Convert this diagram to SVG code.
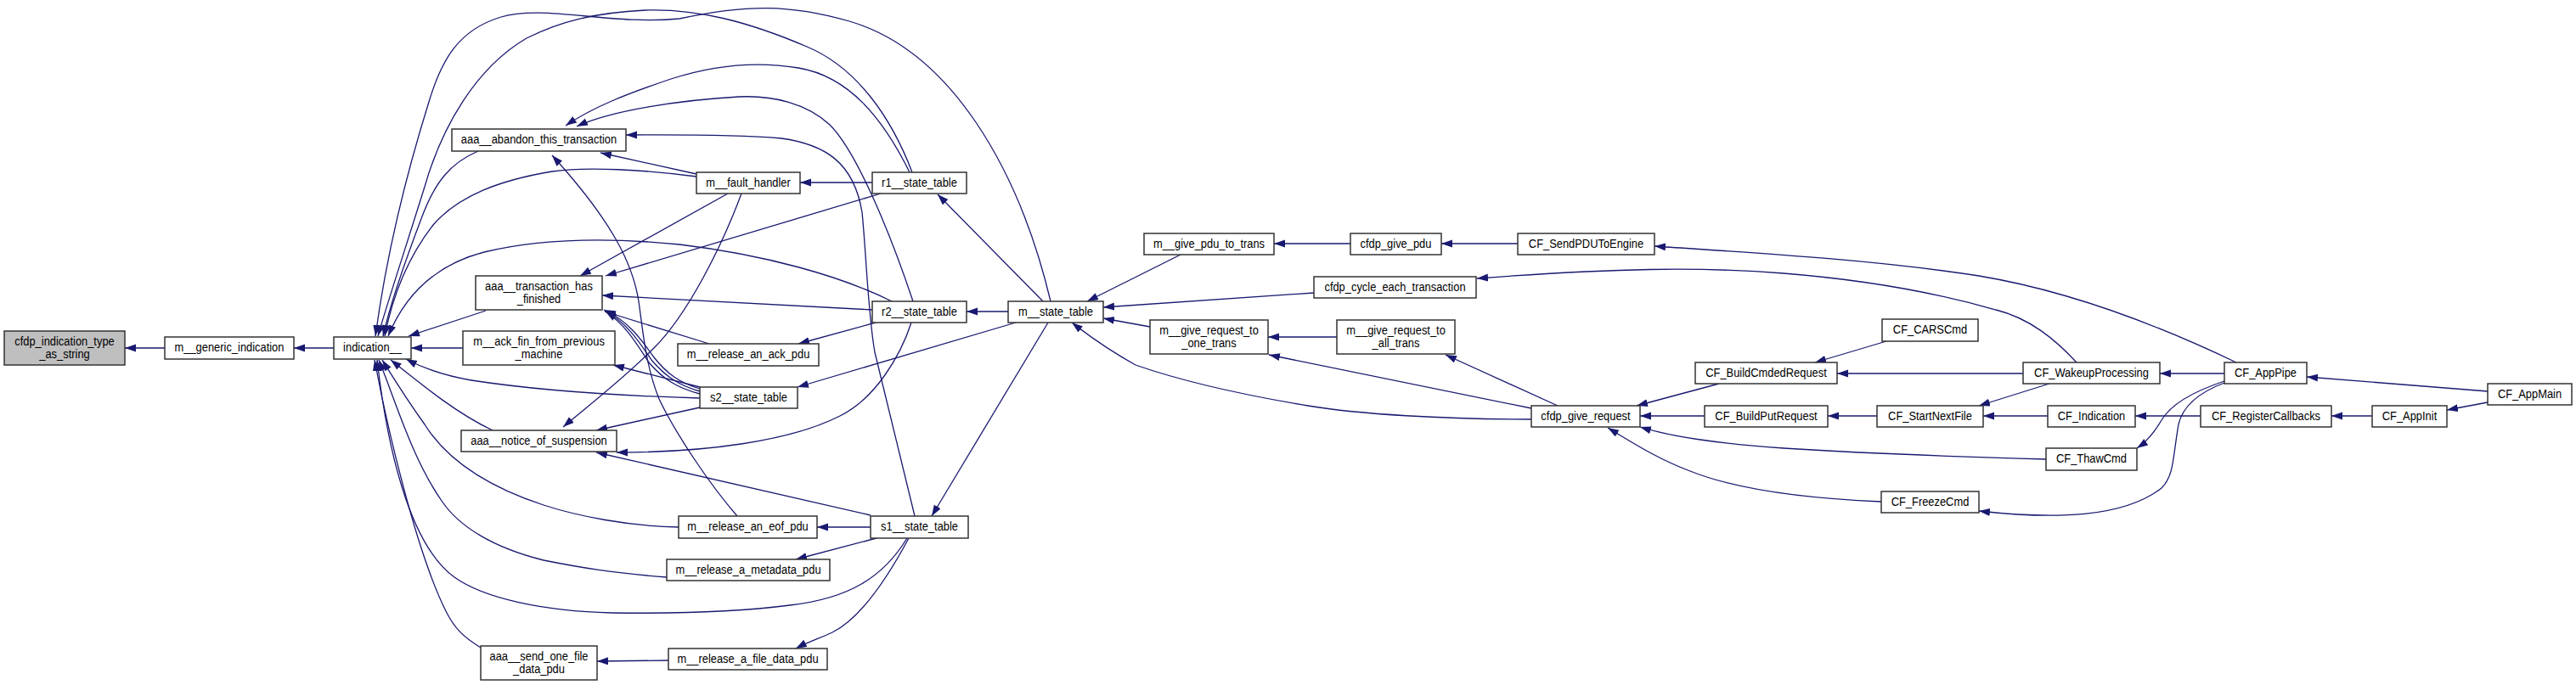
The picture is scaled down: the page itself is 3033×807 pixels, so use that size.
<svg xmlns="http://www.w3.org/2000/svg" width="3033" height="807" viewBox="0 0 3033 807">
<style>
.n rect{fill:#fff;stroke:#333;stroke-width:1.5}
.root rect{fill:#bfbfbf}
text{font-family:"Liberation Sans",Arial,Helvetica,sans-serif;font-size:15px;fill:#000;text-anchor:middle}
#edges path{fill:none;stroke:#191970;stroke-width:1.3;marker-end:url(#a)}
</style>
<defs>
<marker id="a" markerUnits="userSpaceOnUse" markerWidth="14" markerHeight="10" refX="13" refY="4.5" orient="auto"><path d="M0,0 L13,4.5 L0,9 z" fill="#191970"/></marker>
</defs>
<rect width="3033" height="807" fill="#fff"/>
<g id="edges">
<path d="M194,410 L147,410"/>
<path d="M393,410 L346,410"/>
<path d="M545,410 L484,410"/>
<path d="M572,366 L481,396"/>
<path d="M563,178 C530,192 512,215 497,255 C478,305 460,355 451,396"/>
<path d="M1237,355 C1200,200 1120,60 1000,25 C930,5 880,5 800,22 C720,30 640,5 590,20 C540,35 520,70 505,120 C480,200 455,300 442,396"/>
<path d="M1074,203 C1050,140 1010,80 950,55 C880,25 820,10 760,12 C700,15 660,25 620,45 C560,80 520,150 500,220 C475,300 455,360 445,396"/>
<path d="M820,208 C760,200 690,196 650,202 C590,212 540,230 510,265 C475,310 460,360 453,396"/>
<path d="M820,205 L707,180"/>
<path d="M1050,355 C990,325 900,300 800,288 C720,280 640,280 570,297 C520,310 480,340 457,396"/>
<path d="M1027,215 L942,215"/>
<path d="M1071,203 C1040,140 1000,90 940,80 C880,70 830,80 790,93 C740,110 700,125 666,148"/>
<path d="M1075,355 C1050,280 1010,180 977,147 C950,122 910,112 870,114 C800,118 720,130 679,149"/>
<path d="M1077,608 L1030,415 C1022,370 1020,300 1015,250 C1005,190 970,170 920,163 C860,158 790,159 737,159"/>
<path d="M857,228 L683,325"/>
<path d="M1037,228 L713,325"/>
<path d="M1027,365 L709,348"/>
<path d="M835,405 L712,367"/>
<path d="M824,458 C800,451 785,440 770,421 C755,400 740,378 711,365"/>
<path d="M824,461 C799,454 783,443 767,424 C752,402 738,380 712,366"/>
<path d="M824,464 C797,457 780,446 764,427 C749,404 736,382 713,367"/>
<path d="M873,228 C850,290 810,370 770,410 C730,450 690,480 663,503"/>
<path d="M824,480 L702,507"/>
<path d="M1073,380 C1060,420 1030,470 989,490 C930,520 830,533 726,533"/>
<path d="M1025,607 L702,533"/>
<path d="M824,456 L722,430"/>
<path d="M824,469 C720,466 620,458 555,448 C520,442 495,432 478,423"/>
<path d="M580,507 C540,488 505,460 460,424"/>
<path d="M799,621 C740,620 680,608 640,595 C570,572 525,540 500,500 C475,465 460,440 450,424"/>
<path d="M785,680 C720,675 680,668 640,660 C580,645 540,620 520,590 C485,540 465,470 446,424"/>
<path d="M1068,634 C1040,680 1000,705 930,713 C860,722 790,723 720,722 C640,720 570,705 535,680 C480,640 455,520 444,424"/>
<path d="M566,763 C545,750 535,740 525,720 C490,650 455,500 441,424"/>
<path d="M868,608 C835,570 795,510 776,470 C760,430 757,390 752,355 C745,310 720,260 650,183"/>
<path d="M1228,355 L1104,229"/>
<path d="M1187,367 L1138,367"/>
<path d="M1196,380 L939,456"/>
<path d="M1234,380 L1097,608"/>
<path d="M1031,380 L940,405"/>
<path d="M1025,621 L962,621"/>
<path d="M1032,634 L937,659"/>
<path d="M1070,634 C1040,690 1010,730 980,745 C965,752 950,757 937,764"/>
<path d="M787,778 L703,779"/>
<path d="M1390,300 L1280,355"/>
<path d="M1547,345 L1299,362"/>
<path d="M1354,385 L1299,375"/>
<path d="M1803,494 C1700,494 1600,488 1540,478 C1450,463 1380,445 1337,430 C1310,415 1285,398 1262,380"/>
<path d="M1590,287 L1500,287"/>
<path d="M1787,287 L1697,287"/>
<path d="M1574,397 L1493,397"/>
<path d="M1803,481 L1494,418"/>
<path d="M1834,478 L1702,418"/>
<path d="M2024,452 L1927,478"/>
<path d="M2007,490 L1931,490"/>
<path d="M2409,541 C2300,538 2180,533 2100,528 C2020,522 1970,515 1931,503"/>
<path d="M2215,591 C2120,587 2040,575 1990,555 C1950,540 1920,520 1893,504"/>
<path d="M2221,402 L2137,427"/>
<path d="M2382,440 L2163,440"/>
<path d="M2413,452 L2330,478"/>
<path d="M2210,490 L2152,490"/>
<path d="M2411,490 L2335,490"/>
<path d="M2591,490 L2514,490"/>
<path d="M2793,490 L2745,490"/>
<path d="M2929,474 L2881,483"/>
<path d="M2929,461 L2716,444"/>
<path d="M2619,440 L2543,440"/>
<path d="M2619,449 C2580,462 2555,478 2545,495 C2535,512 2525,522 2516,528"/>
<path d="M2619,451 C2590,462 2570,478 2565,500 C2558,540 2560,560 2545,575 C2500,610 2420,612 2330,602"/>
<path d="M2633,427 C2560,392 2450,345 2330,325 C2200,305 2050,297 1948,290"/>
<path d="M2445,427 C2420,400 2390,375 2350,365 C2280,345 2200,330 2100,322 C2000,314 1900,316 1739,328"/>
</g>
<g id="n_cfdp_indication_type_as_string" class="n root"><rect x="5" y="390" width="142" height="40"/><text x="0" y="407" transform="translate(76 0) scale(0.86 1)">cfdp_indication_type</text><text x="0" y="422" transform="translate(76 0) scale(0.86 1)">_as_string</text></g>
<g id="n_m_generic_indication" class="n"><rect x="194" y="397" width="152" height="26"/><text x="0" y="414.5" transform="translate(270 0) scale(0.86 1)">m__generic_indication</text></g>
<g id="n_indication" class="n"><rect x="393" y="397" width="91" height="26"/><text x="0" y="414.5" transform="translate(438.5 0) scale(0.86 1)">indication__</text></g>
<g id="n_aaa_abandon_this_transaction" class="n"><rect x="532" y="152" width="205" height="26"/><text x="0" y="169.5" transform="translate(634.5 0) scale(0.86 1)">aaa__abandon_this_transaction</text></g>
<g id="n_aaa_transaction_has_finished" class="n"><rect x="560" y="325" width="149" height="40"/><text x="0" y="342" transform="translate(634.5 0) scale(0.86 1)">aaa__transaction_has</text><text x="0" y="357" transform="translate(634.5 0) scale(0.86 1)">_finished</text></g>
<g id="n_m_ack_fin_from_previous_machine" class="n"><rect x="545" y="390" width="179" height="40"/><text x="0" y="407" transform="translate(634.5 0) scale(0.86 1)">m__ack_fin_from_previous</text><text x="0" y="422" transform="translate(634.5 0) scale(0.86 1)">_machine</text></g>
<g id="n_aaa_notice_of_suspension" class="n"><rect x="543" y="507" width="183" height="25"/><text x="0" y="524" transform="translate(634.5 0) scale(0.86 1)">aaa__notice_of_suspension</text></g>
<g id="n_aaa_send_one_file_data_pdu" class="n"><rect x="566" y="761" width="137" height="40"/><text x="0" y="778" transform="translate(634.5 0) scale(0.86 1)">aaa__send_one_file</text><text x="0" y="793" transform="translate(634.5 0) scale(0.86 1)">_data_pdu</text></g>
<g id="n_m_fault_handler" class="n"><rect x="820" y="203" width="122" height="25"/><text x="0" y="220" transform="translate(881 0) scale(0.86 1)">m__fault_handler</text></g>
<g id="n_r1_state_table" class="n"><rect x="1027" y="203" width="111" height="25"/><text x="0" y="220" transform="translate(1082.5 0) scale(0.86 1)">r1__state_table</text></g>
<g id="n_r2_state_table" class="n"><rect x="1027" y="355" width="111" height="25"/><text x="0" y="372" transform="translate(1082.5 0) scale(0.86 1)">r2__state_table</text></g>
<g id="n_m_release_an_ack_pdu" class="n"><rect x="798" y="405" width="166" height="26"/><text x="0" y="422.5" transform="translate(881 0) scale(0.86 1)">m__release_an_ack_pdu</text></g>
<g id="n_s2_state_table" class="n"><rect x="824" y="456" width="115" height="25"/><text x="0" y="473" transform="translate(881.5 0) scale(0.86 1)">s2__state_table</text></g>
<g id="n_m_release_an_eof_pdu" class="n"><rect x="799" y="608" width="163" height="26"/><text x="0" y="625.5" transform="translate(880.5 0) scale(0.86 1)">m__release_an_eof_pdu</text></g>
<g id="n_s1_state_table" class="n"><rect x="1025" y="608" width="115" height="26"/><text x="0" y="625.5" transform="translate(1082.5 0) scale(0.86 1)">s1__state_table</text></g>
<g id="n_m_release_a_metadata_pdu" class="n"><rect x="785" y="659" width="192" height="25"/><text x="0" y="676" transform="translate(881 0) scale(0.86 1)">m__release_a_metadata_pdu</text></g>
<g id="n_m_release_a_file_data_pdu" class="n"><rect x="787" y="764" width="187" height="25"/><text x="0" y="781" transform="translate(880.5 0) scale(0.86 1)">m__release_a_file_data_pdu</text></g>
<g id="n_m_state_table" class="n"><rect x="1187" y="355" width="112" height="25"/><text x="0" y="372" transform="translate(1243 0) scale(0.86 1)">m__state_table</text></g>
<g id="n_m_give_pdu_to_trans" class="n"><rect x="1347" y="275" width="153" height="25"/><text x="0" y="292" transform="translate(1423.5 0) scale(0.86 1)">m__give_pdu_to_trans</text></g>
<g id="n_m_give_request_to_one_trans" class="n"><rect x="1354" y="377" width="139" height="40"/><text x="0" y="394" transform="translate(1423.5 0) scale(0.86 1)">m__give_request_to</text><text x="0" y="409" transform="translate(1423.5 0) scale(0.86 1)">_one_trans</text></g>
<g id="n_cfdp_give_pdu" class="n"><rect x="1590" y="275" width="107" height="25"/><text x="0" y="292" transform="translate(1643.5 0) scale(0.86 1)">cfdp_give_pdu</text></g>
<g id="n_CF_SendPDUToEngine" class="n"><rect x="1787" y="275" width="161" height="25"/><text x="0" y="292" transform="translate(1867.5 0) scale(0.86 1)">CF_SendPDUToEngine</text></g>
<g id="n_cfdp_cycle_each_transaction" class="n"><rect x="1547" y="326" width="191" height="25"/><text x="0" y="343" transform="translate(1642.5 0) scale(0.86 1)">cfdp_cycle_each_transaction</text></g>
<g id="n_m_give_request_to_all_trans" class="n"><rect x="1574" y="377" width="139" height="40"/><text x="0" y="394" transform="translate(1643.5 0) scale(0.86 1)">m__give_request_to</text><text x="0" y="409" transform="translate(1643.5 0) scale(0.86 1)">_all_trans</text></g>
<g id="n_cfdp_give_request" class="n"><rect x="1803" y="478" width="128" height="25"/><text x="0" y="495" transform="translate(1867 0) scale(0.86 1)">cfdp_give_request</text></g>
<g id="n_CF_BuildCmdedRequest" class="n"><rect x="1996" y="427" width="167" height="25"/><text x="0" y="444" transform="translate(2079.5 0) scale(0.86 1)">CF_BuildCmdedRequest</text></g>
<g id="n_CF_BuildPutRequest" class="n"><rect x="2007" y="478" width="145" height="25"/><text x="0" y="495" transform="translate(2079.5 0) scale(0.86 1)">CF_BuildPutRequest</text></g>
<g id="n_CF_CARSCmd" class="n"><rect x="2216" y="376" width="113" height="26"/><text x="0" y="393.5" transform="translate(2272.5 0) scale(0.86 1)">CF_CARSCmd</text></g>
<g id="n_CF_StartNextFile" class="n"><rect x="2210" y="478" width="125" height="25"/><text x="0" y="495" transform="translate(2272.5 0) scale(0.86 1)">CF_StartNextFile</text></g>
<g id="n_CF_FreezeCmd" class="n"><rect x="2215" y="579" width="115" height="25"/><text x="0" y="596" transform="translate(2272.5 0) scale(0.86 1)">CF_FreezeCmd</text></g>
<g id="n_CF_WakeupProcessing" class="n"><rect x="2382" y="427" width="161" height="25"/><text x="0" y="444" transform="translate(2462.5 0) scale(0.86 1)">CF_WakeupProcessing</text></g>
<g id="n_CF_Indication" class="n"><rect x="2411" y="478" width="103" height="25"/><text x="0" y="495" transform="translate(2462.5 0) scale(0.86 1)">CF_Indication</text></g>
<g id="n_CF_ThawCmd" class="n"><rect x="2409" y="528" width="107" height="26"/><text x="0" y="545.5" transform="translate(2462.5 0) scale(0.86 1)">CF_ThawCmd</text></g>
<g id="n_CF_AppPipe" class="n"><rect x="2619" y="427" width="97" height="25"/><text x="0" y="444" transform="translate(2667.5 0) scale(0.86 1)">CF_AppPipe</text></g>
<g id="n_CF_RegisterCallbacks" class="n"><rect x="2591" y="478" width="154" height="25"/><text x="0" y="495" transform="translate(2668 0) scale(0.86 1)">CF_RegisterCallbacks</text></g>
<g id="n_CF_AppInit" class="n"><rect x="2793" y="478" width="88" height="25"/><text x="0" y="495" transform="translate(2837 0) scale(0.86 1)">CF_AppInit</text></g>
<g id="n_CF_AppMain" class="n"><rect x="2929" y="452" width="99" height="25"/><text x="0" y="469" transform="translate(2978.5 0) scale(0.86 1)">CF_AppMain</text></g>
</svg>
